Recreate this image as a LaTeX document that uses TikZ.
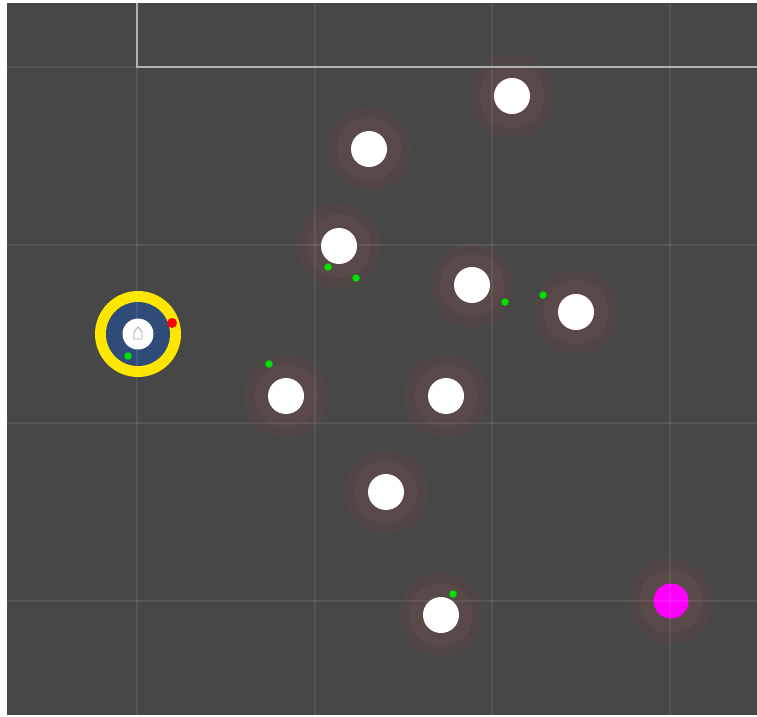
\documentclass[tikz,border=0pt]{standalone}
\begin{document}
\begin{tikzpicture}[x=1pt,y=-1pt,
  halo/.style={circle,fill=haloout,minimum size=84pt,inner sep=0pt,outer sep=0pt},
  haloin/.style={circle,fill=haloin,minimum size=64pt,inner sep=0pt},
  ball/.style={circle,fill=white,minimum size=36pt,inner sep=0pt},
  gdot/.style={circle,fill=dotgreen,minimum size=7.5pt,inner sep=0pt},
  faint/.style={draw=white,draw opacity=0.08,line width=1.8pt},
  bright/.style={draw=brightc,line width=2.8pt}]
\definecolor{bg}{HTML}{474747}
\definecolor{brightc}{HTML}{B2B2B2}
\definecolor{haloout}{HTML}{504646}
\definecolor{haloin}{HTML}{594949}
\definecolor{dotgreen}{HTML}{00E000}
\definecolor{robotblue}{HTML}{2F4B78}
\definecolor{robotyellow}{HTML}{FFE600}
\definecolor{targetmag}{HTML}{FF00FF}
\useasboundingbox (0,0) rectangle (757,716);
\fill[white] (0,0) rectangle (757,716);
\fill[bg] (7,3) rectangle (757,715);
% halos
\foreach \n/\x/\y in {h1/512/96,h2/369/149,h3/339/246,h4/472/285,h5/576/312,h6/286/396,h7/446/396,h8/386/492,h9/441/615,hm/671/601}{
  \node[halo] (\n) at (\x,\y) {};
  \node[haloin] at (\x,\y) {};
}
% balls
\foreach \n/\x/\y in {b1/512/96,b2/369/149,b3/339/246,b4/472/285,b5/576/312,b6/286/396,b7/446/396,b8/386/492,b9/441/615}{
  \node[ball] (\n) at (\x,\y) {};
}
\node[circle,fill=targetmag,minimum size=35pt,inner sep=0pt] (target) at (671,601) {};
% robot
\node[circle,fill=robotyellow,minimum size=86pt,inner sep=0pt] (robot) at (138,334) {};
\node[circle,fill=robotblue,minimum size=64pt,inner sep=0pt] (robotbody) at (138,334) {};
\node[circle,fill=white,minimum size=31pt,inner sep=0pt] (robotcore) at (138,334) {};
\draw[gray!70,line width=0.8pt] (134,339) -- (134,332) -- (138,327) -- (142,332) -- (142,339) -- cycle;
\node[circle,fill=red,minimum size=10pt,inner sep=0pt] (heading) at (172,323) {};
% faint grid
\foreach \x in {137,315,492,670} \draw[faint] (\x,3) -- (\x,715);
\foreach \y in {67,245,423,601} \draw[faint] (7,\y) -- (757,\y);
% bright boundary
\draw[bright] (137,3) -- (137,67) -- (757,67);
% green dots
\foreach \n/\x/\y in {g1/328/267,g2/356/278,g3/505/302,g4/543/295,g5/269/364,g6/453/594,g7/128/356}{
  \node[gdot] (\n) at (\x,\y) {};
}
\end{tikzpicture}
\end{document}
